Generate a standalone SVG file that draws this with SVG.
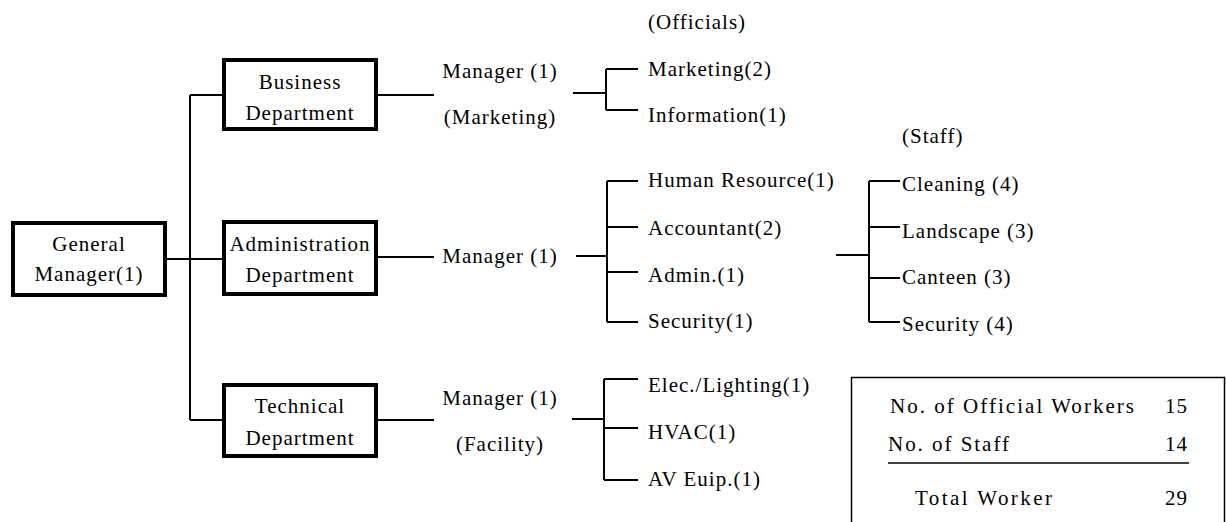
<svg xmlns="http://www.w3.org/2000/svg" width="1226" height="522" viewBox="0 0 1226 522">
<style>
text{font-family:"Liberation Serif","Times New Roman",serif;font-size:21px;letter-spacing:1px;fill:#000}
.box{fill:#fff;stroke:#000;stroke-width:4}
.c{text-anchor:middle}
.e{text-anchor:end}
#connectors path{fill:none;stroke:#000;stroke-width:2}
</style>
<rect width="1226" height="522" fill="#fff"/>
<g id="connectors">
<path d="M167 259H222M190 95V420M190 95H222M190 420H222"/>
<path d="M378 95H434M378 257H434M378 420H434"/>
<path d="M573 93H606M606 69V110M606 69H638M606 110H638"/>
<path d="M576 256H607M607 181V322M607 181H638M607 227H638M607 272H638M607 322H638"/>
<path d="M572 419H604M604 379V480M604 379H638M604 428H638M604 480H638"/>
<path d="M836 255H869M869 181V322M869 181H900M869 227H900M869 278H900M869 322H900"/>
</g>
<g id="gm"><rect class="box" x="13" y="223" width="152" height="72"/><text class="c" x="89" y="251">General</text><text class="c" x="89" y="281">Manager(1)</text></g>
<g id="business"><rect class="box" x="224" y="60" width="152" height="69"/><text class="c" x="300" y="89">Business</text><text class="c" x="300" y="120">Department</text></g>
<g id="admin"><rect class="box" x="224" y="222" width="152" height="72"/><text class="c" x="300" y="251">Administration</text><text class="c" x="300" y="282">Department</text></g>
<g id="technical"><rect class="box" x="224" y="385" width="152" height="71"/><text class="c" x="300" y="413">Technical</text><text class="c" x="300" y="445">Department</text></g>
<g id="mgr-business"><text class="c" x="500" y="78">Manager (1)</text><text class="c" x="500" y="124">(Marketing)</text></g>
<g id="mgr-admin"><text class="c" x="500" y="263">Manager (1)</text></g>
<g id="mgr-tech"><text class="c" x="500" y="405">Manager (1)</text><text class="c" x="500" y="451">(Facility)</text></g>
<g id="officials"><text x="648" y="29">(Officials)</text><text x="648" y="76">Marketing(2)</text><text x="648" y="122">Information(1)</text></g>
<g id="admin-officials"><text x="648" y="187">Human Resource(1)</text><text x="648" y="235">Accountant(2)</text><text x="648" y="282">Admin.(1)</text><text x="648" y="328">Security(1)</text></g>
<g id="tech-officials"><text x="648" y="392">Elec./Lighting(1)</text><text x="648" y="439">HVAC(1)</text><text x="648" y="486">AV Euip.(1)</text></g>
<g id="staff"><text x="902" y="143">(Staff)</text><text x="902" y="191">Cleaning (4)</text><text x="902" y="238">Landscape (3)</text><text x="902" y="284">Canteen (3)</text><text x="902" y="331">Security (4)</text></g>
<g id="summary">
<rect x="851.5" y="377.5" width="373" height="170" fill="none" stroke="#000" stroke-width="1.5"/>
<text x="890" y="413" textLength="245" lengthAdjust="spacing">No. of Official Workers</text><text class="e" x="1188" y="413">15</text>
<text x="888" y="451" textLength="122" lengthAdjust="spacing">No. of Staff</text><text class="e" x="1188" y="451">14</text>
<path d="M888 463H1189" stroke="#000" stroke-width="1.5"/>
<text x="915" y="505" textLength="138" lengthAdjust="spacing">Total Worker</text><text class="e" x="1188" y="505">29</text>
</g>
</svg>
